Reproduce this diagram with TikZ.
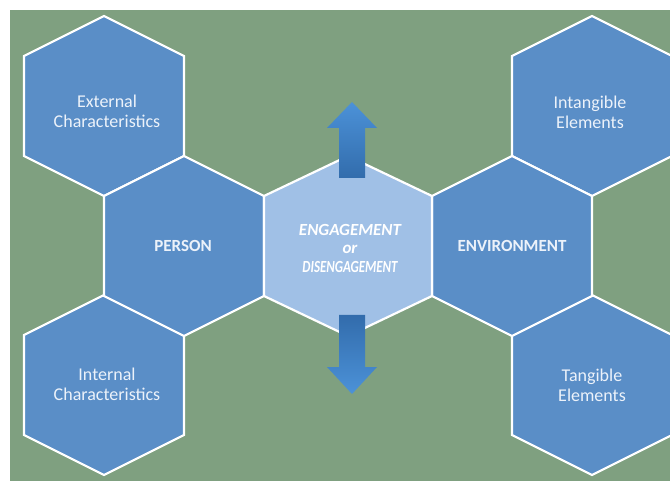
\documentclass[tikz,border=0pt]{standalone}
\usepackage{fontspec}
\setmainfont{Carlito}
\usepackage{tikz}
\usetikzlibrary{positioning}
\definecolor{fieldGreen}{RGB}{127, 160, 128}
\definecolor{cellBlue}{RGB}{90, 142, 199}
\definecolor{coreBlue}{RGB}{160, 192, 230}
\definecolor{labelWhite}{RGB}{236, 242, 250}
\definecolor{arrowDark}{RGB}{50, 108, 172}
\definecolor{arrowLight}{RGB}{76, 146, 216}
\tikzset{
    hex_cell/.style={
        draw=white,
        line width=2.2pt,
        line join=miter,
        fill=cellBlue
    },
    core_cell/.style={
        hex_cell,
        fill=coreBlue
    },
    hex_label/.style={
        text=labelWhite,
        align=center,
        inner sep=0pt,
        font=\fontsize{18}{20}\selectfont
    },
    hub_label/.style={
        hex_label,
        font=\fontsize{17}{20}\selectfont\bfseries
    },
    core_label/.style={
        hex_label,
        text=white,
        font=\fontsize{17}{18.5}\selectfont\bfseries\itshape
    },
    flow_arrow/.style={
        draw=none
    }
}
% outline of one cell: centre x, centre y, half width
\newcommand{\hexcell}[3]{(#1-#3,#2-50) -- (#1,#2-90) -- (#1+#3,#2-50)
    -- (#1+#3,#2+50) -- (#1,#2+90) -- (#1-#3,#2+50) -- cycle}

\begin{document}
\begin{tikzpicture}[x=1pt, y=-1pt]
    \useasboundingbox (0,0) rectangle (670,481);
    \fill[fieldGreen] (10,10) rectangle (670,481);

    % outer cells
    \path[hex_cell] \hexcell{104}{106}{80};
    \path[hex_cell] \hexcell{104}{385}{80};
    \path[hex_cell] \hexcell{592}{106}{80};
    \path[hex_cell] \hexcell{592}{385}{80};
    % person and environment
    \path[hex_cell] \hexcell{184}{246}{80};
    \path[hex_cell] \hexcell{512}{246}{80};
    % centre cell
    \path[core_cell] \hexcell{348}{246}{84};

    \node[hex_label] (ext_char) at (107,111) {External\\Characteristics};
    \node[hex_label] (int_char) at (107,384) {Internal\\Characteristics};
    \node[hex_label] (intangible) at (590,112) {Intangible\\Elements};
    \node[hex_label] (tangible) at (592,385) {Tangible\\Elements};
    \node[hub_label] (person) at (183,246) {PERSON};
    \node[hub_label] (environment) at (512,246) {ENVIRONMENT};
    \node[core_label] (core) at (350,248)
        {ENGAGEMENT\\or\\\scalebox{0.76}[1]{DISENGAGEMENT}};

    % arrows out of the centre cell
    \path[flow_arrow, top color=arrowLight, bottom color=arrowDark]
        (339,178) -- (339,128) -- (327,128) -- (352,102)
        -- (377,128) -- (365,128) -- (365,178) -- cycle;
    \path[flow_arrow, top color=arrowDark, bottom color=arrowLight]
        (339,315) -- (339,367) -- (327,367) -- (352,394)
        -- (377,367) -- (365,367) -- (365,315) -- cycle;
\end{tikzpicture}
\end{document}
